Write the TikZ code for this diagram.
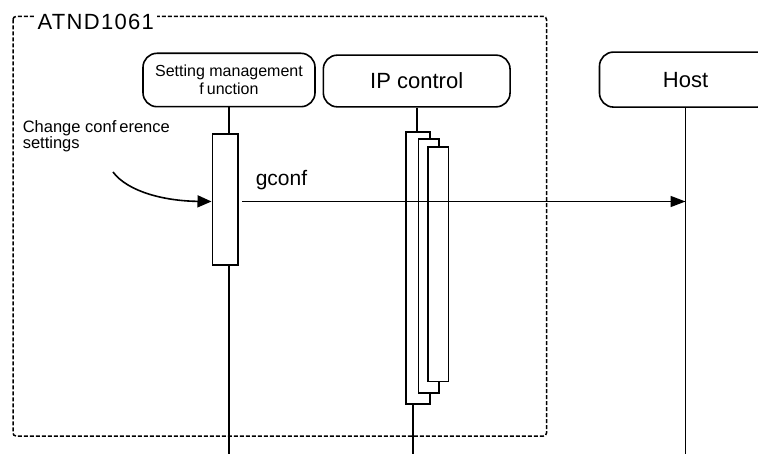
\documentclass[tikz,border=0pt]{standalone}
\usepackage{fontspec}
\setmainfont{Liberation Sans}
\usetikzlibrary{arrows.meta}
\begin{document}
\begin{tikzpicture}[x=1pt,y=-1pt,line width=1.6pt,
  head/.style={draw,rounded corners=14pt,inner sep=0pt,align=center},
  act/.style={draw,fill=white,inner sep=0pt},
  msg/.style={-{Triangle[length=15pt,width=11pt]}},
  cmsg/.style={-{Triangle[length=14pt,width=12pt]}},
  frame/.style={dash pattern=on 4pt off 2pt,line width=1.5pt,rounded corners=3pt},
  lbl/.style={inner sep=0pt}]
\useasboundingbox (0,0) rectangle (758,454);
\clip (0,0) rectangle (758,454);
% frame
\draw[frame] (13,16.5) rectangle (546.5,436);
\node[lbl,fill=white,inner xsep=3pt,inner ysep=2pt,anchor=base west,font=\fontsize{22}{26}\selectfont\addfontfeature{LetterSpace=6}] (frametitle) at (33.7,29.3) {ATND1061};
% heads
\node[head,minimum width=172pt,minimum height=53.4pt,font=\fontsize{16}{17.5}\selectfont] (smhead) at (229,80) {Setting management\\f\kern3pt{}unction};
\node[head,minimum width=186.7pt,minimum height=51.7pt,font=\fontsize{22}{26}\selectfont] (iphead) at (416.7,81) {IP control};
\node[head,minimum width=172pt,minimum height=55pt,font=\fontsize{22}{26}\selectfont] (hosthead) at (685.5,79.6) {Host};
% activation boxes
\node[act,minimum width=25.4pt,minimum height=130.7pt] (smact) at (225,199.65) {};
\node[act,minimum width=24pt,minimum height=272pt] (ipb1) at (418,268) {};
\node[act,minimum width=20.7pt,minimum height=254pt] (ipb2) at (428.65,266) {};
\node[act,minimum width=20.6pt,minimum height=234.4pt] (ipb3) at (438,264.5) {};
% lifelines
\coordinate (smend) at (229,454);
\coordinate (ipend) at (412.7,454);
\coordinate (hostend) at (685.5,454);
\draw (smhead.south) -- (smact.north -| smhead.south);
\draw (smact.south -| smend) -- (smend);
\draw (iphead.south) -- (ipb1.north -| iphead.south);
\draw (ipb1.south -| ipend) -- (ipend);
\draw (hosthead.south) -- (hostend);
% messages
\coordinate (gstart) at (242,201.5);
\draw[msg] (gstart) -- (gstart -| hosthead.south);
\node[lbl,anchor=base,font=\fontsize{21}{24}\selectfont] (gconf) at (281.5,185.5) {gconf};
\coordinate (cstart) at (113,172);
\draw[cmsg] (cstart) .. controls (128,192) and (165,201) .. (smact.west |- gstart);
\node[lbl,anchor=base west,align=left,font=\fontsize{16.5}{14.5}\selectfont] (ctext) at (22,149) {Change conf\kern3pt{}erence\\settings};
\end{tikzpicture}
\end{document}
